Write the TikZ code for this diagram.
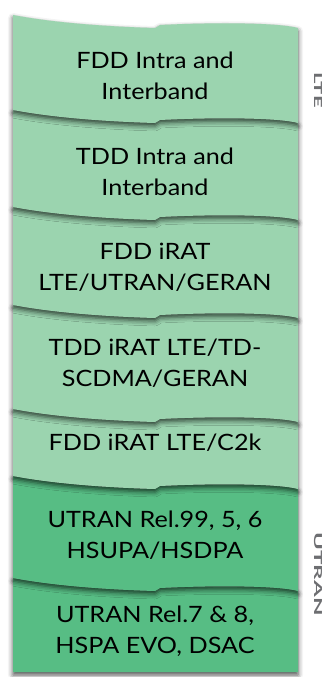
\documentclass[tikz,border=0pt]{standalone}
\usepackage{fontspec}
\setmainfont{Lato}[FakeStretch=1.12]
\newfontfamily\labelfont{Lato}
\usepackage{graphicx}
\usetikzlibrary{shadows.blur}
\definecolor{lightgreen}{HTML}{9BD4AF}
\definecolor{darkgreen}{HTML}{57BD84}
\definecolor{labelgrey}{HTML}{6D6E71}
\tikzset{block shadow/.style={blur shadow={shadow xshift=0pt,
  shadow yshift=-3pt,shadow blur radius=5pt,shadow opacity=70}}}
% block with a wavy top edge at #1 and a wavy bottom edge at #2
\newcommand{\wavyblock}[3]{%
  \path[fill=#3,block shadow]
    (13,#1) .. controls (60,#1+9) and (120,#1+12) .. (155,#1+13)
    -- (160,#1+10) .. controls (220,#1+7) and (280,#1+8) .. (298,#1+13)
    -- (298,#2+13) .. controls (280,#2+8) and (220,#2+7) .. (160,#2+10)
    -- (155,#2+13) .. controls (120,#2+12) and (60,#2+9) .. (13,#2) -- cycle;}

\begin{document}
\begin{tikzpicture}[x=1pt,y=-1pt,
      block text/.style={align=center,font=\fontsize{22.5}{31}\selectfont,
        text=black},
      side label/.style={rotate=-90,text=labelgrey,
        font=\labelfont\bfseries\fontsize{11}{13}\selectfont}]
    \useasboundingbox (0,0) rectangle (332,677);
    % blocks, bottom first so each upper block overlaps the one below
    \path[fill=darkgreen,block shadow]
      (13,578) .. controls (60,587) and (120,590) .. (155,591)
      -- (160,588) .. controls (220,585) and (280,586) .. (298,591)
      -- (298,672) -- (13,672) -- cycle;
    \wavyblock{476}{578}{darkgreen}
    \wavyblock{409}{476}{lightgreen}
    \wavyblock{305}{409}{lightgreen}
    \wavyblock{207}{305}{lightgreen}
    \wavyblock{110}{207}{lightgreen}
    \wavyblock{15}{110}{lightgreen}
    % texts
    \node[block text] (fddintra) at (155,76)  {FDD Intra and\\Interband};
    \node[block text] (tddintra) at (155,172) {TDD Intra and\\Interband};
    \node[block text] (fddirat)  at (155,267) {FDD iRAT\\LTE/UTRAN/GERAN};
    \node[block text] (tddirat)  at (155,363) {TDD iRAT LTE/TD-\\SCDMA/GERAN};
    \node[block text] (fddctwok) at (155,443) {FDD iRAT LTE/C2k};
    \node[block text] (utranold) at (155,535) {UTRAN Rel.99, 5, 6\\HSUPA/HSDPA};
    \node[block text] (utrannew) at (155,631) {UTRAN Rel.7 \& 8,\\HSPA EVO, DSAC};
    % technology labels on the right
    \node[side label] (lte)   at (318,90)  {\scalebox{2.0}[1]{LTE}};
    \node[side label] (utran) at (318,574) {\scalebox{2.2}[1]{UTRAN}};
\end{tikzpicture}
\end{document}
